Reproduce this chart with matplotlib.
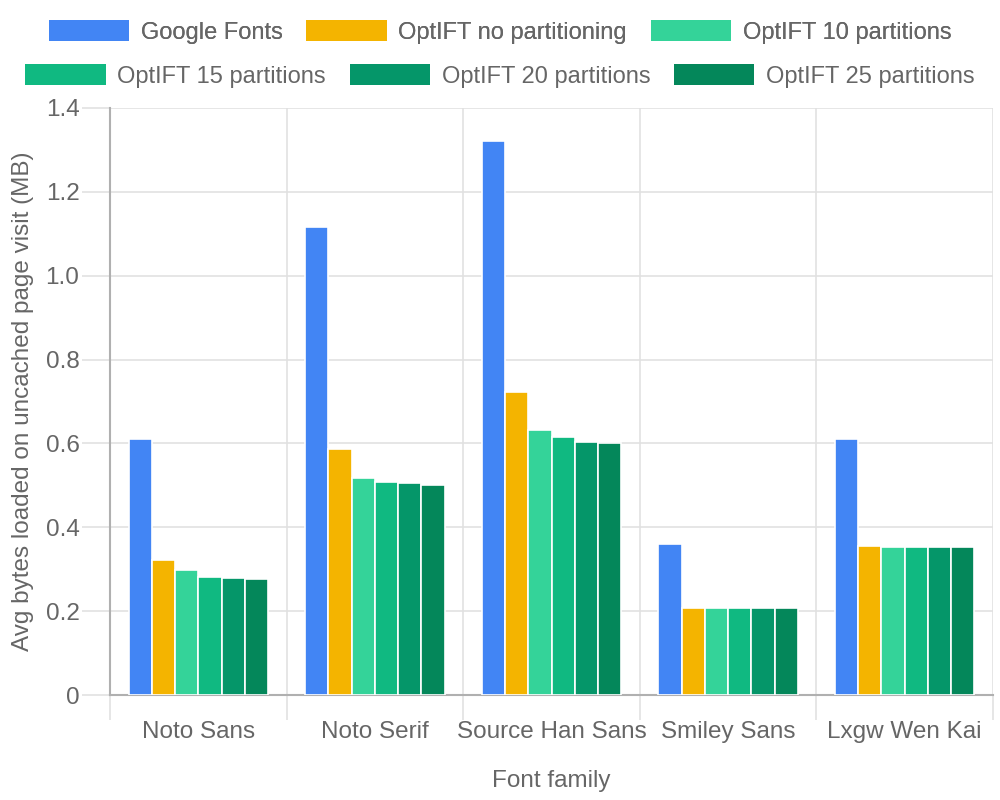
import numpy as np
import matplotlib
matplotlib.use('Agg')
import matplotlib.pyplot as plt
from matplotlib.patches import Patch

plt.rcParams['font.family'] = ['Liberation Sans', 'DejaVu Sans']

### data
families = ['Noto Sans', 'Noto Serif', 'Source Han Sans', 'Smiley Sans', 'Lxgw Wen Kai']
series_names = ['Google Fonts', 'OptIFT no partitioning', 'OptIFT 10 partitions',
                'OptIFT 15 partitions', 'OptIFT 20 partitions', 'OptIFT 25 partitions']
google_fonts = [0.611, 1.117, 1.321, 0.359, 0.611]
no_partitioning = [0.322, 0.587, 0.723, 0.207, 0.355]
partitions_10 = [0.299, 0.518, 0.633, 0.207, 0.353]
partitions_15 = [0.281, 0.508, 0.616, 0.207, 0.353]
partitions_20 = [0.278, 0.506, 0.604, 0.207, 0.353]
partitions_25 = [0.277, 0.502, 0.601, 0.207, 0.353]
colors = ['#4285F4', '#F4B400', '#34D399', '#10B981', '#059669', '#04875A']

all_series = [google_fonts, no_partitioning, partitions_10,
              partitions_15, partitions_20, partitions_25]

txt = '#666666'
grid_c = '#e1e1e1'
axis_c = '#b0b0b0'

fig = plt.figure(figsize=(10, 8), dpi=100)
ax = fig.add_axes([0.11, 0.13125, 0.883, 0.73375])

n = len(all_series)
x = np.arange(len(families))
slot = 0.79 / n
for i, (vals, c) in enumerate(zip(all_series, colors)):
    pos = x - 0.395 + slot * (i + 0.5)
    ax.bar(pos, vals, width=slot, color=c, edgecolor='white', linewidth=1.2,
           label=series_names[i], zorder=3)

ax.set_xlim(-0.5, len(families) - 0.5)
ax.set_ylim(0, 1.4)
ax.set_yticks(np.arange(0, 1.41, 0.2))
ax.set_yticklabels(['0'] + ['%.1f' % v for v in np.arange(0.2, 1.41, 0.2)])
ax.set_xticks(x)
ax.set_xticklabels(families)

# category boundaries as grid lines
ax.set_xticks(np.arange(-0.5, len(families)), minor=True)
ax.grid(True, which='minor', axis='x', color=grid_c, linewidth=1.2, zorder=0)
ax.grid(True, which='major', axis='y', color=grid_c, linewidth=1.2, zorder=0)
ax.tick_params(axis='x', which='major', length=0, pad=19, labelsize=17.5, labelcolor=txt)
ax.tick_params(axis='x', which='minor', length=18, color=grid_c, width=1.2)
ax.tick_params(axis='y', length=20, color=grid_c, width=1.2, pad=2,
               labelsize=17.5, labelcolor=txt)
# first boundary tick drawn in the axis colour
ax.xaxis.get_minor_ticks()[0].tick1line.set_color(axis_c)
ax.yaxis.get_major_ticks()[0].tick1line.set_color(axis_c)

for side in ['top', 'right']:
    ax.spines[side].set_visible(False)
ax.spines['left'].set_color(axis_c)
ax.spines['bottom'].set_color(axis_c)
ax.spines['left'].set_linewidth(1.5)
ax.spines['bottom'].set_linewidth(1.5)

ax.set_xlabel('Font family', fontsize=17.5, color=txt, labelpad=19)
ax.set_ylabel('Avg bytes loaded on uncached page visit (MB)', fontsize=17.5,
              color=txt, labelpad=8)

# two-row legend, centred rows like the reference
row1 = [Patch(facecolor=colors[i]) for i in range(3)]
row2 = [Patch(facecolor=colors[i]) for i in range(3, 6)]
leg1 = fig.legend(row1, series_names[:3], loc='center', bbox_to_anchor=(0.5, 0.96),
                  ncol=3, frameon=False, fontsize=17, labelcolor=txt,
                  handlelength=3.4, handleheight=1.0, handletextpad=0.5, columnspacing=1.0)
leg2 = fig.legend(row2, series_names[3:], loc='center', bbox_to_anchor=(0.5, 0.905),
                  ncol=3, frameon=False, fontsize=17, labelcolor=txt,
                  handlelength=3.4, handleheight=1.0, handletextpad=0.5, columnspacing=1.0)
fig.add_artist(leg1)

fig.savefig('out.png', dpi=100)
